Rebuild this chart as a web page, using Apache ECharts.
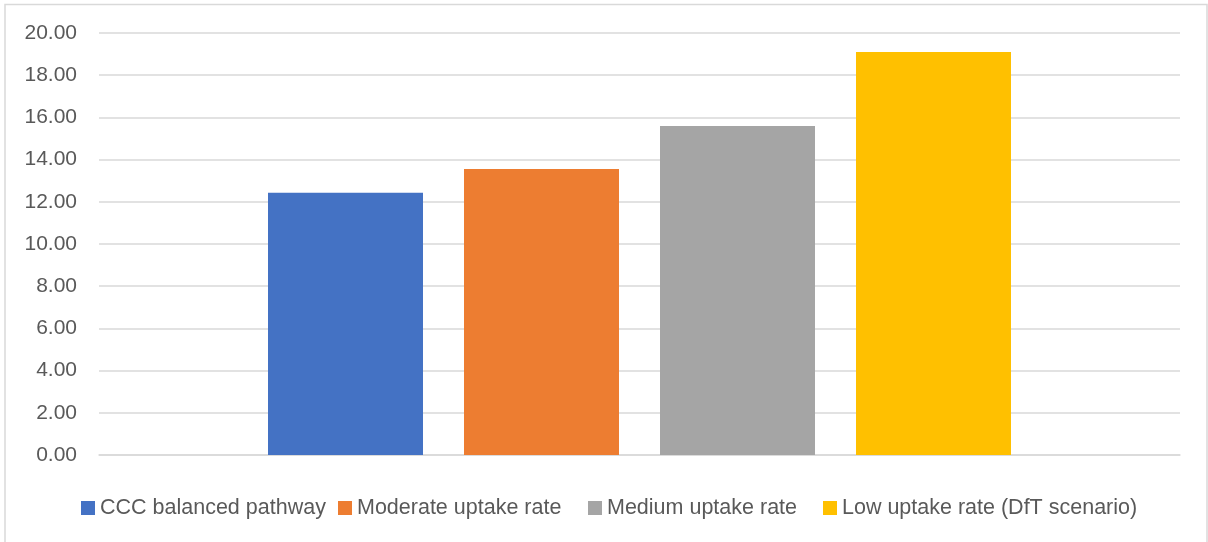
<!DOCTYPE html>
<html>
<head>
<meta charset="utf-8">
<script src="https://cdn.jsdelivr.net/npm/echarts@6/dist/echarts.min.js"></script>
<style>
  html, body { margin: 0; padding: 0; background: #ffffff; }
  #chart { width: 1208px; height: 542px; }
</style>
</head>
<body>
<div id="chart"></div>
<script>
// Scenario names and their values (one bar per scenario)
const scenarios = ['CCC balanced pathway', 'Moderate uptake rate', 'Medium uptake rate', 'Low uptake rate (DfT scenario)'];
const values = [12.43, 13.55, 15.59, 19.10];
const colors = ['#4472C4', '#ED7D31', '#A5A5A5', '#FFC000'];
const categories = [''];

const textColor = '#595959';
const gridColor = '#d9d9d9';
const fontFamily = '"Liberation Sans", Arial, sans-serif';
// left edge of each legend entry's swatch
const legendLefts = [81, 338, 588, 823];

const chart = echarts.init(document.getElementById('chart'), null, { renderer: 'canvas' });

const series = scenarios.map((name, i) => ({
  name: name,
  type: 'bar',
  data: [values[i]],
  barWidth: 155,
  barGap: '26.45%',
  itemStyle: { color: colors[i] },
  emphasis: { disabled: true }
}));

// one legend block per scenario so each entry sits at its own spot
const legends = scenarios.map((name, i) => ({
  data: [name],
  left: legendLefts[i],
  top: 497,
  padding: 0,
  itemWidth: 14,
  itemHeight: 14,
  icon: 'rect',
  selectedMode: false,
  textStyle: { color: textColor, fontSize: 21.5, fontFamily: fontFamily }
}));

chart.setOption({
  animation: false,
  backgroundColor: '#ffffff',
  textStyle: { fontFamily: fontFamily },
  graphic: [{
    type: 'rect',
    shape: { x: 5, y: 4.5, width: 1202, height: 600 },
    style: { fill: null, stroke: gridColor, lineWidth: 1.5 },
    silent: true,
    z: -1
  }],
  grid: { left: 99, right: 28, top: 33, bottom: 87, containLabel: false },
  legend: legends,
  xAxis: {
    type: 'category',
    data: categories,
    axisLine: { show: true, lineStyle: { color: gridColor, width: 1.5 } },
    axisTick: { show: false },
    axisLabel: { show: false },
    splitLine: { show: false }
  },
  yAxis: {
    type: 'value',
    min: 0,
    max: 20,
    interval: 2,
    axisLine: { show: false },
    axisTick: { show: false },
    axisLabel: {
      color: textColor,
      fontSize: 21,
      fontFamily: fontFamily,
      margin: 22,
      formatter: v => v.toFixed(2)
    },
    splitLine: { show: true, lineStyle: { color: gridColor, width: 1.5 } }
  },
  series: series
});
</script>
</body>
</html>
